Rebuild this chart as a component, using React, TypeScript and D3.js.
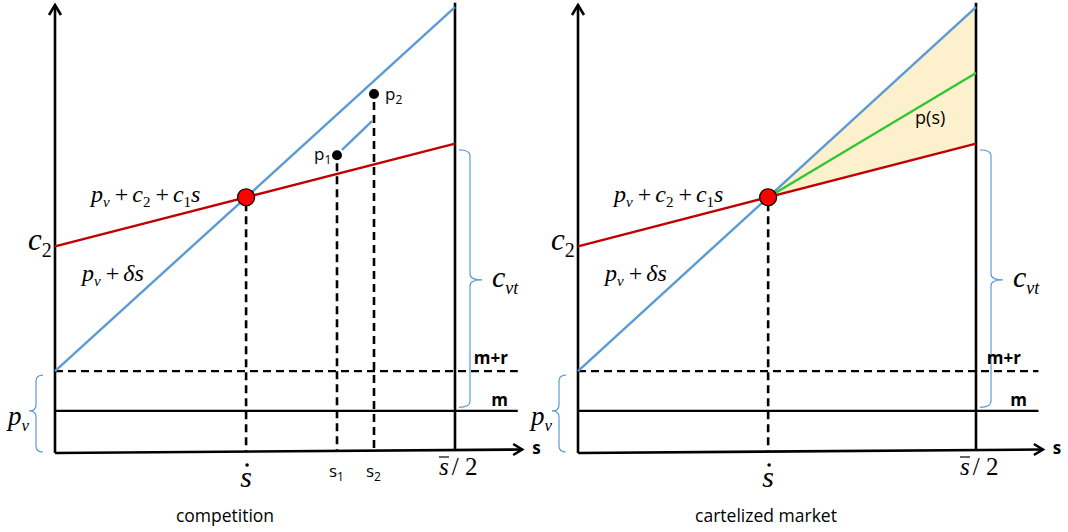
import * as d3 from 'd3';

// price axis runs 0..100, s axis runs 0..1 (0 .. s̄/2)
const priceDomain = [0, 100];
const sDomain = [0, 1];
const axisTop = 100;
const lineTop = 100.5;
const axisRight = 1.168;
const hLineRight = 1.157;

const mLevel = 9.2; // m
const mrLevel = 18.1; // m + r
const blueLine = [{ s: 0, p: 18.1 }, { s: 1, p: 99.5 }]; // p_v + δs
const redLine = [{ s: 0, p: 46 }, { s: 1, p: 69 }]; // p_v + c2 + c1 s
const greenEnd = { s: 1, p: 84.8 }; // p(s)
const competitionPoints = [
  { id: '1', s: 0.705, p: 66.4 },
  { id: '2', s: 0.7975, p: 80.1 },
];
const deviationSegment = [{ s: 0.7175, p: 67.6 }, { s: 0.7925, p: 74.0 }];
const cvtBrace = [10, 38.5, 67.6]; // bottom, middle, top
const pvBrace = [0, 9.2, 17.2];

const panels = [
  { title: 'competition', left: 55, right: 455, titleX: 225, mrX: 508, mX: 508, cartel: false },
  { title: 'cartelized market', left: 578, right: 976, titleX: 766, mrX: 1021, mX: 1027, cartel: true },
];

const BLUE = '#5b9bd5';
const RED = '#c00000';
const GREEN = '#33c533';
const FILL = '#fdf0cd';
const SERIF = "Liberation Serif, Tinos, Times New Roman, DejaVu Serif, serif";
const SANS = "Open Sans, Liberation Sans, sans-serif";

type Pt = { s: number; p: number };

function Panel({ left, right, title, titleX, mrX, mX, cartel }: any) {
  const x = d3.scaleLinear().domain(sDomain).range([left, right]);
  const y = d3.scaleLinear().domain(priceDomain).range([452, 5]);
  const line = d3.line<Pt>().x(d => x(d.s)).y(d => y(d.p));

  const bSlope = blueLine[1].p - blueLine[0].p;
  const rSlope = redLine[1].p - redLine[0].p;
  const sDot = (redLine[0].p - blueLine[0].p) / (bSlope - rSlope);
  const dot = { s: sDot, p: blueLine[0].p + bSlope * sDot };

  const x0 = x(0);
  const x1 = x(1);
  const y0 = y(0);

  // curly braces
  const brace = (xa: number, xm: number, xt: number, ya: number, ym: number, yb: number) => {
    const r = 6;
    return `M${xa},${ya} Q${xm},${ya} ${xm},${ya + r} L${xm},${ym - r} Q${xm},${ym} ${xt},${ym} ` +
      `M${xt},${ym} Q${xm},${ym} ${xm},${ym + r} L${xm},${yb - r} Q${xm},${yb} ${xa},${yb}`;
  };
  const [cb0, cbm, cb1] = cvtBrace.map(v => y(v));
  const [pb0, pbm, pb1] = pvBrace.map(v => y(v));

  const sub = 15;
  return (
    <g>
      {cartel && (
        <path d={line([dot, blueLine[1], redLine[1], dot]) || ''} fill={FILL} stroke="none" />
      )}

      {/* horizontal levels */}
      <line x1={x0} x2={x(hLineRight)} y1={y(mrLevel)} y2={y(mrLevel)} stroke="#000" strokeWidth={2.4} strokeDasharray="8,5" />
      <line x1={x0} x2={x(hLineRight)} y1={y(mLevel)} y2={y(mLevel)} stroke="#000" strokeWidth={2.4} />

      {/* axes */}
      <line x1={x0} x2={x0} y1={y0 + 1} y2={y(axisTop)} stroke="#000" strokeWidth={2.6} />
      <path d={`M${x0 - 6},${y(axisTop) + 10} L${x0},${y(axisTop)} L${x0 + 6},${y(axisTop) + 10}`} fill="none" stroke="#000" strokeWidth={2.6} />
      <line x1={x0} x2={x(axisRight)} y1={y0 + 1} y2={y0 - 2.5} stroke="#000" strokeWidth={2.6} />
      <path d={`M${x(axisRight) - 9},${y0 - 8} L${x(axisRight)},${y0 - 2.5} L${x(axisRight) - 9},${y0 + 3}`} fill="none" stroke="#000" strokeWidth={2.6} />
      <line x1={x1} x2={x1} y1={y0 - 1} y2={y(lineTop)} stroke="#000" strokeWidth={2.6} />

      {/* dashed drop from equilibrium */}
      <line x1={x(dot.s)} x2={x(dot.s)} y1={y(dot.p) + 6} y2={y0 - 1} stroke="#000" strokeWidth={2.6} strokeDasharray="8,5" />

      {!cartel && competitionPoints.map(d => (
        <line key={d.id} x1={x(d.s)} x2={x(d.s)} y1={y(d.p) + 8} y2={y0 - 1.5} stroke="#000" strokeWidth={2.6} strokeDasharray="8,5" />
      ))}

      <path d={line(blueLine) || ''} fill="none" stroke={BLUE} strokeWidth={2.4} />
      <path d={line(redLine) || ''} fill="none" stroke={RED} strokeWidth={2.4} />
      {cartel && <path d={line([dot, greenEnd]) || ''} fill="none" stroke={GREEN} strokeWidth={2.4} />}
      {!cartel && <path d={line(deviationSegment) || ''} fill="none" stroke={BLUE} strokeWidth={2.4} />}

      {!cartel && competitionPoints.map(d => (
        <circle key={d.id} cx={x(d.s)} cy={y(d.p)} r={5} fill="#000" />
      ))}
      {!cartel && (
        <g fontFamily={SANS} fontSize={17}>
          <text x={x(competitionPoints[0].s) - 23} y={y(competitionPoints[0].p) + 5}>
            p<tspan fontSize={12} dy={4}>1</tspan>
          </text>
          <text x={x(competitionPoints[1].s) + 11} y={y(competitionPoints[1].p) + 6}>
            p<tspan fontSize={12} dy={4}>2</tspan>
          </text>
          {competitionPoints.map(d => (
            <text key={d.id} x={x(d.s) - 8} y={y0 + 25}>
              s<tspan fontSize={12} dy={4}>{d.id}</tspan>
            </text>
          ))}
        </g>
      )}

      <circle cx={x(dot.s)} cy={y(dot.p)} r={8.5} fill="#ff0000" stroke="#000" strokeWidth={1.2} />

      {/* braces */}
      <path d={brace(x1 + 4, x1 + 15, x1 + 27, cb1, cbm, cb0)} fill="none" stroke={BLUE} strokeWidth={1.2} />
      <path d={brace(x0 - 12, x0 - 19, x0 - 26, pb1, pbm, pb0)} fill="none" stroke={BLUE} strokeWidth={1.2} />

      {/* math labels */}
      <g fill="#000">
        <text x={x0 + 36} y={202} fontSize={24} fontFamily={SERIF}>
          <tspan fontStyle="italic">p</tspan>
          <tspan fontStyle="italic" fontSize={sub} dy={5}>v</tspan>
          <tspan dy={-5} dx={5}>+</tspan>
          <tspan fontStyle="italic" dx={4}>c</tspan>
          <tspan fontSize={sub} dy={5}>2</tspan>
          <tspan dy={-5} dx={5}>+</tspan>
          <tspan fontStyle="italic" dx={4}>c</tspan>
          <tspan fontSize={sub} dy={5}>1</tspan>
          <tspan fontStyle="italic" dy={-5}>s</tspan>
        </text>
        <text x={x0 + 27} y={281} fontSize={24} fontFamily={SERIF}>
          <tspan fontStyle="italic">p</tspan>
          <tspan fontStyle="italic" fontSize={sub} dy={5}>v</tspan>
          <tspan dy={-5} dx={5}>+</tspan>
          <tspan fontStyle="italic" dx={4}>δs</tspan>
        </text>
        <text x={x0 - 27} y={y(redLine[0].p) + 4} fontSize={31} fontFamily={SERIF}>
          <tspan fontStyle="italic">c</tspan>
          <tspan fontSize={20} dy={7}>2</tspan>
        </text>
        <text x={x1 + 37} y={287} fontSize={30} fontFamily={SERIF}>
          <tspan fontStyle="italic">c</tspan>
          <tspan fontStyle="italic" fontSize={18} dy={7}>vt</tspan>
        </text>
        <text x={x0 - 47} y={425} fontSize={27} fontFamily={SERIF}>
          <tspan fontStyle="italic">p</tspan>
          <tspan fontStyle="italic" fontSize={17} dy={6}>v</tspan>
        </text>
        <text x={x(dot.s)} y={y0 + 35} fontSize={30} fontStyle="italic" textAnchor="middle" fontFamily={SERIF}>s</text>
        <circle cx={x(dot.s) + 1} cy={y0 + 13} r={1.8} fill="#000" />
        <text x={x1 - 16} y={y0 + 23} fontSize={25} fontFamily={SERIF}>
          <tspan fontStyle="italic">s</tspan>
          <tspan dx={3}>/ 2</tspan>
        </text>
        <line x1={x1 - 16} x2={x1 - 6} y1={y0 + 5} y2={y0 + 5} stroke="#000" strokeWidth={1.2} />
      </g>

      {/* sans labels */}
      <g fontFamily={SANS} fill="#000">
        <text x={x(axisRight) + 10} y={y0 + 2} fontSize={17} fontWeight="bold">s</text>
        <text x={mrX} y={364} fontSize={17} fontWeight="bold" textAnchor="end">m+r</text>
        <text x={mX} y={406} fontSize={17} fontWeight="bold" textAnchor="end">m</text>
        {cartel && <text x={x(0.847)} y={y(73.4)} fontSize={18}>p(s)</text>}
        <text x={titleX} y={522} fontSize={17.5} textAnchor="middle">{title}</text>
      </g>
    </g>
  );
}

export default function App() {
  return (
    <div style={{ position: 'absolute', left: 0, top: 0 }}>
      <svg width={1068} height={532} style={{ display: 'block', background: '#fff' }}>
        {panels.map(p => (
          <Panel key={p.title} {...p} />
        ))}
      </svg>
    </div>
  );
}
